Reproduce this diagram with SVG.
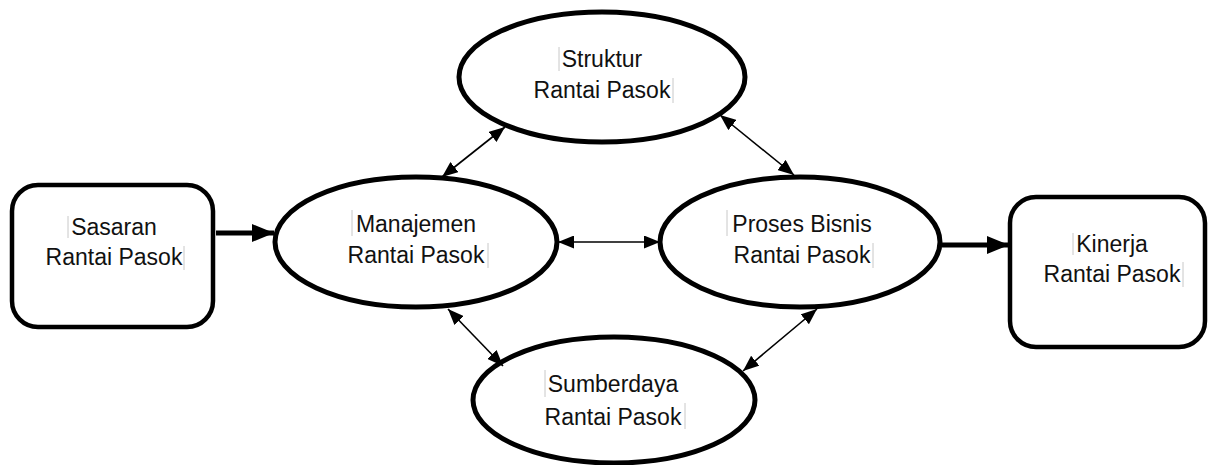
<svg xmlns="http://www.w3.org/2000/svg" width="1210" height="465" viewBox="0 0 1210 465">
<style>
.box{fill:#fff;stroke:#000;stroke-width:4.5}
.ell{fill:#fff;stroke:#000;stroke-width:5}
.lbl{font-family:"Liberation Sans",Arial,sans-serif;font-size:23px;fill:#111;text-anchor:middle}
.cur{stroke:#c8c8c8;stroke-width:1}
.thin{stroke:#000;stroke-width:1.6;fill:none}
.thick{stroke:#000;stroke-width:5;fill:none}
</style>
<defs>
<marker id="ah" viewBox="0 0 16 13" refX="16" refY="6.5" markerWidth="16" markerHeight="13" markerUnits="userSpaceOnUse" orient="auto-start-reverse">
<path d="M0,0 L16,6.5 L0,13 Z" fill="#000"/>
</marker>
<marker id="ahb" viewBox="0 0 22 18" refX="22" refY="9" markerWidth="22" markerHeight="18" markerUnits="userSpaceOnUse" orient="auto">
<path d="M0,0 L22,9 L0,18 Z" fill="#000"/>
</marker>
</defs>
<g id="sasaran">
<rect class="box" x="12" y="185" width="201" height="142" rx="26"/>
<text class="lbl" x="114" y="235">Sasaran</text>
<text class="lbl" x="114" y="265">Rantai Pasok</text>
<line class="cur" x1="68" y1="216" x2="68" y2="238"/>
<line class="cur" x1="184" y1="246" x2="184" y2="270"/>
</g>
<g id="kinerja">
<rect class="box" x="1010" y="197" width="195" height="150" rx="26"/>
<text class="lbl" x="1112" y="252">Kinerja</text>
<text class="lbl" x="1112" y="282">Rantai Pasok</text>
<line class="cur" x1="1073" y1="233" x2="1073" y2="255"/>
<line class="cur" x1="1183" y1="262" x2="1183" y2="287"/>
</g>
<g id="struktur">
<ellipse class="ell" cx="602" cy="77" rx="143" ry="65"/>
<text class="lbl" x="602" y="67">Struktur</text>
<text class="lbl" x="602" y="98">Rantai Pasok</text>
<line class="cur" x1="559" y1="47" x2="559" y2="71"/>
<line class="cur" x1="673" y1="78" x2="673" y2="103"/>
</g>
<g id="manajemen">
<ellipse class="ell" cx="416" cy="242" rx="141" ry="65"/>
<text class="lbl" x="416" y="232">Manajemen</text>
<text class="lbl" x="416" y="263">Rantai Pasok</text>
<line class="cur" x1="352" y1="210" x2="352" y2="236"/>
<line class="cur" x1="488" y1="243" x2="488" y2="268"/>
</g>
<g id="proses">
<ellipse class="ell" cx="800" cy="242" rx="140" ry="65"/>
<text class="lbl" x="802" y="232">Proses Bisnis</text>
<text class="lbl" x="802" y="263">Rantai Pasok</text>
<line class="cur" x1="727" y1="210" x2="727" y2="236"/>
<line class="cur" x1="873" y1="243" x2="873" y2="268"/>
</g>
<g id="sumberdaya">
<ellipse class="ell" cx="614" cy="400" rx="141" ry="63"/>
<text class="lbl" x="613" y="392">Sumberdaya</text>
<text class="lbl" x="613" y="425">Rantai Pasok</text>
<line class="cur" x1="545" y1="370" x2="545" y2="397"/>
<line class="cur" x1="685" y1="403" x2="685" y2="429"/>
</g>
<g id="connectors">
<line class="thick" x1="216" y1="233" x2="274" y2="233" marker-end="url(#ahb)"/>
<line class="thick" x1="942" y1="245" x2="1009" y2="245" marker-end="url(#ahb)"/>
<line class="thin" x1="558" y1="242" x2="660" y2="242" marker-start="url(#ah)" marker-end="url(#ah)"/>
<line class="thin" x1="505" y1="127" x2="442" y2="177" marker-start="url(#ah)" marker-end="url(#ah)"/>
<line class="thin" x1="720" y1="115" x2="794" y2="175" marker-start="url(#ah)" marker-end="url(#ah)"/>
<line class="thin" x1="448" y1="309" x2="503" y2="366" marker-start="url(#ah)" marker-end="url(#ah)"/>
<line class="thin" x1="817" y1="309" x2="743" y2="371" marker-start="url(#ah)" marker-end="url(#ah)"/>
</g>
</svg>
